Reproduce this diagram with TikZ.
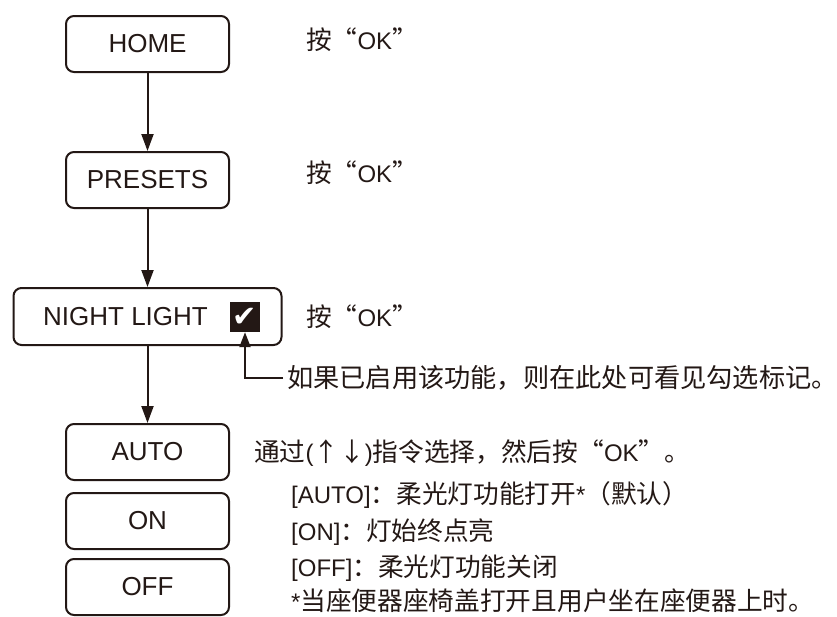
\documentclass[tikz,border=0pt]{standalone}
\usepackage{fontspec}
\setmainfont{Liberation Sans}
\newfontfamily\cjk[Scale=1.07]{Noto Sans CJK SC}
\newfontfamily\symfont{DejaVu Sans}
\usetikzlibrary{arrows.meta}
\definecolor{inkBlack}{HTML}{231815}
\newcommand{\zh}[1]{{\cjk #1}}

\begin{document}
\begin{tikzpicture}[
  x=1pt, y=-1pt,
  every node/.style={text=inkBlack},
  menubox/.style={
    rectangle, rounded corners=8pt,
    minimum width=163pt, minimum height=56pt,
    draw=inkBlack, line width=2pt, inner sep=0pt,
    font=\fontsize{26}{30}\selectfont
  },
  flow/.style={
    draw=inkBlack, line width=2pt, -{Triangle[length=17pt, width=12pt]}
  },
  hint/.style={
    anchor=west, inner sep=0pt, font=\fontsize{24}{28}\selectfont
  },
]
\useasboundingbox (0,0) rectangle (837,616);

% === Menu boxes ===
\node[menubox] (home) at (147.5,44) {HOME};
\node[menubox] (presets) at (147.5,180) {PRESETS};
\node[menubox, minimum width=268pt, minimum height=57pt] (night) at (147.5,316.5) {NIGHT LIGHT\rule{44pt}{0pt}};
\node[fill=inkBlack, minimum size=30pt, inner sep=0pt, text=white,
  font=\symfont\fontsize{29}{29}\selectfont] (tick) at (245,317) {✔};
\node[menubox] (auto) at (147.5,452) {AUTO};
\node[menubox] (on) at (147.5,521) {ON};
\node[menubox] (off) at (147.5,587) {OFF};

% === Flow arrows ===
\draw[flow] (home) -- (presets);
\draw[flow] (presets) -- (night);
\draw[flow] (night) -- (auto);

% === Key hints ===
\node[hint] (okhome) at (306,40) {\zh{按“}OK\zh{”}};
\node[hint] (okpresets) at (306,173) {\zh{按“}OK\zh{”}};
\node[hint] (oknight) at (306,317) {\zh{按“}OK\zh{”}};

% === Check mark note ===
\node[hint, inner xsep=4pt, font=\fontsize{24.5}{28}\selectfont] (note) at (283,378) {\zh{如果已启用该功能，则在此处可看见勾选标记。}};
\draw[flow, -{Triangle[length=15pt, width=11pt]}] (note.west) -| (tick.south);

% === Mode selection ===
\node[hint] (select) at (254,453) {\zh{通过}(\zh{↑↓})\zh{指令选择，然后按“}OK\zh{”。}};
\node[hint] (modeauto) at (291,495) {[AUTO]\zh{：柔光灯功能打开}*\zh{（默认）}};
\node[hint] (modeon) at (291,532) {[ON]\zh{：灯始终点亮}};
\node[hint] (modeoff) at (291,568) {[OFF]\zh{：柔光灯功能关闭}};
\node[hint] (footnote) at (291,601) {*\zh{当座便器座椅盖打开且用户坐在座便器上时。}};

\end{tikzpicture}
\end{document}
